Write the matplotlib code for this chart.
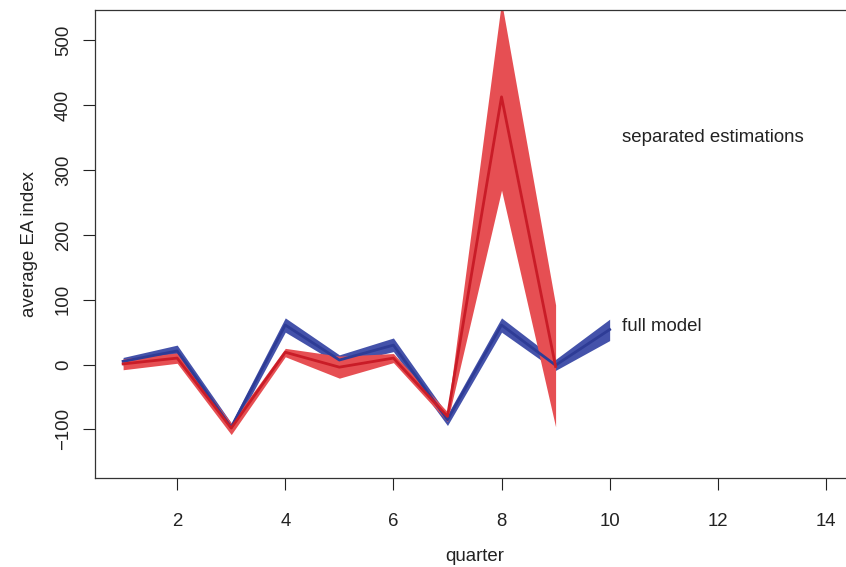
"""Average EA index by quarter: full model vs separated estimations."""
import matplotlib
matplotlib.use("Agg")
import matplotlib.pyplot as plt

plt.rcParams["font.family"] = ["Liberation Sans", "DejaVu Sans"]

# full model (blue band)
full_q = [1, 2, 3, 4, 5, 6, 7, 8, 9, 10]
full_mid = [5, 21, -97, 61, 7, 30, -85, 61, -1, 54]
full_lo = [-2, 12, -105, 50, 0, 20, -94, 50, -9, 37]
full_hi = [11, 30, -90, 72, 15, 41, -77, 72, 8, 70]

# separated estimations (red band)
sep_q = [1, 2, 3, 4, 5, 6, 7, 8, 9]
sep_mid = [1, 10, -98, 19, -4, 10, -80, 413, -3]
sep_lo = [-8, 2, -108, 12, -21, 3, -88, 269, -96]
sep_hi = [9, 18, -90, 25, 13, 17, -73, 560, 92]

x_ticks = [2, 4, 6, 8, 10, 12, 14]
y_ticks = [-100, 0, 100, 200, 300, 400, 500]

FS = 13.4
W, H = 846, 567
fig = plt.figure(figsize=(W / 100, H / 100), dpi=100)
ax = fig.add_axes([95 / W, (H - 478) / H, (854 - 95) / W, (478 - 10) / H])

ax.fill_between(full_q, full_lo, full_hi, color="#4452AA", lw=0)
ax.plot(full_q, full_mid, color="#2E3C96", lw=2)
ax.fill_between(sep_q, sep_lo, sep_hi, color="#E64F53", lw=0)
ax.plot(sep_q, sep_mid, color="#C91C27", lw=2)

ax.text(10.22, 351, "separated estimations", fontsize=FS, color="#222222",
        ha="left", va="center")
ax.text(10.22, 59, "full model", fontsize=FS, color="#222222",
        ha="left", va="center")

ax.set_xlim(0.48, 14.52)
ax.set_ylim(-175, 547)
ax.set_xticks(x_ticks)
ax.set_yticks(y_ticks)
ax.set_yticklabels([str(v).replace("-", "\u2212") for v in y_ticks],
                   rotation=90, va="center")
ax.tick_params(direction="out", length=8.5, width=0.8, labelsize=FS,
               colors="#222222")
ax.tick_params(axis="x", pad=17)
ax.tick_params(axis="y", pad=8)
for sp in ax.spines.values():
    sp.set_linewidth(0.9)
    sp.set_color("#333333")

ax.set_xlabel("quarter", fontsize=FS, color="#222222", labelpad=13)
ax.set_ylabel("average EA index", fontsize=FS, color="#222222", labelpad=12)

fig.savefig("out.png", dpi=100)
